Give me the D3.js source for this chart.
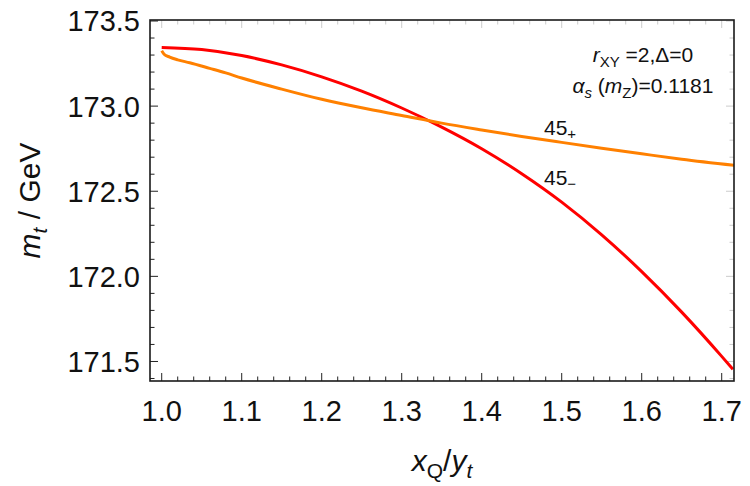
<!DOCTYPE html>
<html lang="en">
<head>
  <meta charset="UTF-8">
  <title>m_t vs x_Q/y_t</title>
  <style>
    body { margin: 0; background: #fff; }
    svg text { font-family: "Liberation Sans", Arial, sans-serif; fill: #111; }
    .tick-label { font-size: 29px; }
    .axis-title { font-size: 30px; }
    .note { font-size: 21px; }
    .curve-label { font-size: 21px; }
  </style>
</head>
<body>
  <svg id="chart" width="750" height="486"></svg>

  <script src="https://d3js.org/d3.v7.min.js"></script>
  <script>
    // values
    const minusX = [1.0, 1.05, 1.1, 1.15, 1.2, 1.25, 1.3, 1.35, 1.4, 1.45, 1.5, 1.55, 1.6, 1.65, 1.7, 1.714];
    const minusY = [173.345, 173.332, 173.297, 173.242, 173.172, 173.088, 172.989, 172.877, 172.75, 172.603, 172.436, 172.244, 172.028, 171.79, 171.53, 171.454];

    const plusX = [1.0, 1.003, 1.01, 1.02, 1.035, 1.06, 1.08, 1.1, 1.15, 1.2, 1.25, 1.3, 1.35, 1.4, 1.45, 1.5, 1.55, 1.6, 1.65, 1.716];
    const plusY = [173.325, 173.305, 173.288, 173.272, 173.255, 173.222, 173.195, 173.165, 173.1, 173.04, 172.99, 172.945, 172.9, 172.86, 172.822, 172.787, 172.753, 172.72, 172.688, 172.652];

    const xTicks = [1.0, 1.1, 1.2, 1.3, 1.4, 1.5, 1.6, 1.7];
    const yTicks = [171.5, 172.0, 172.5, 173.0, 173.5];

    const svg = d3.select('#chart');
    const mLeft = 150, mRight = 734, mTop = 20, mBottom = 381;

    const x = d3.scaleLinear().domain([0.98537, 1.71537]).range([mLeft, mRight]);
    const y = d3.scaleLinear().domain([173.5059, 171.3853]).range([mTop, mBottom]);

    svg.append('clipPath').attr('id', 'clip')
      .append('rect')
      .attr('x', mLeft).attr('y', mTop)
      .attr('width', mRight - mLeft).attr('height', mBottom - mTop);

    // minor ticks
    const xMinor = d3.range(0.98, 1.72, 0.02).filter(v => v >= x.domain()[0] && v <= x.domain()[1]);
    const yMinor = d3.range(171.4, 173.51, 0.1).filter(v => v >= y.domain()[1] && v <= y.domain()[0]);
    const isMajorX = v => xTicks.some(t => Math.abs(t - v) < 1e-6);
    const isMajorY = v => yTicks.some(t => Math.abs(t - v) < 1e-6);

    const ticks = svg.append('g');
    // bottom + top
    xMinor.forEach(v => {
      const len = isMajorX(v) ? 8 : 4.5;
      ticks.append('line')
        .attr('x1', x(v)).attr('x2', x(v))
        .attr('y1', mBottom).attr('y2', mBottom - len)
        .attr('stroke', '#222').attr('stroke-width', 1);
      ticks.append('line')
        .attr('x1', x(v)).attr('x2', x(v))
        .attr('y1', mTop).attr('y2', mTop + len)
        .attr('stroke', '#ccc').attr('stroke-width', 1);
    });
    // left + right
    yMinor.forEach(v => {
      const len = isMajorY(v) ? 8 : 4.5;
      ticks.append('line')
        .attr('x1', mLeft).attr('x2', mLeft + len)
        .attr('y1', y(v)).attr('y2', y(v))
        .attr('stroke', '#222').attr('stroke-width', 1);
      ticks.append('line')
        .attr('x1', mRight).attr('x2', mRight - len)
        .attr('y1', y(v)).attr('y2', y(v))
        .attr('stroke', '#ccc').attr('stroke-width', 1);
    });

    const line = d3.line()
      .x(d => x(d[0]))
      .y(d => y(d[1]))
      .curve(d3.curveMonotoneX);

    const curves = svg.append('g').attr('clip-path', 'url(#clip)');
    curves.append('path')
      .datum(minusX.map((v, i) => [v, minusY[i]]))
      .attr('d', line)
      .attr('fill', 'none')
      .attr('stroke', '#ff0000')
      .attr('stroke-width', 3);
    curves.append('path')
      .datum(plusX.map((v, i) => [v, plusY[i]]))
      .attr('d', line)
      .attr('fill', 'none')
      .attr('stroke', '#ff8000')
      .attr('stroke-width', 3);

    // frame
    svg.append('rect')
      .attr('x', mLeft).attr('y', mTop)
      .attr('width', mRight - mLeft).attr('height', mBottom - mTop)
      .attr('fill', 'none')
      .attr('stroke', '#1a1a1a')
      .attr('stroke-width', 1.6);

    // tick labels
    svg.append('g').selectAll('text')
      .data(xTicks)
      .enter().append('text')
      .attr('class', 'tick-label')
      .attr('x', d => x(d))
      .attr('y', 421)
      .attr('text-anchor', 'middle')
      .text(d => d3.format('.1f')(d));

    svg.append('g').selectAll('text')
      .data(yTicks)
      .enter().append('text')
      .attr('class', 'tick-label')
      .attr('x', 140)
      .attr('y', d => y(d))
      .attr('dy', '0.36em')
      .attr('text-anchor', 'end')
      .text(d => d3.format('.1f')(d));

    // axis titles
    const xt = svg.append('text')
      .attr('class', 'axis-title')
      .attr('x', (mLeft + mRight) / 2)
      .attr('y', 471)
      .attr('text-anchor', 'middle');
    xt.append('tspan').attr('font-style', 'italic').text('x');
    xt.append('tspan').attr('font-size', '21px').attr('dy', 7).text('Q');
    xt.append('tspan').attr('dy', -7).text('/');
    xt.append('tspan').attr('font-style', 'italic').text('y');
    xt.append('tspan').attr('font-style', 'italic').attr('font-size', '21px').attr('dy', 7).text('t');

    const yt = svg.append('text')
      .attr('class', 'axis-title')
      .attr('transform', `translate(40,${(mTop + mBottom) / 2}) rotate(-90)`)
      .attr('text-anchor', 'middle');
    yt.append('tspan').attr('font-style', 'italic').text('m');
    yt.append('tspan').attr('font-style', 'italic').attr('font-size', '21px').attr('dy', 7).text('t');
    yt.append('tspan').attr('dy', -7).text(' / GeV');

    // notes
    const n1 = svg.append('text').attr('class', 'note')
      .attr('x', 643).attr('y', 62).attr('text-anchor', 'middle');
    n1.append('tspan').attr('font-style', 'italic').text('r');
    n1.append('tspan').attr('font-size', '15px').attr('dy', 5).text('XY');
    n1.append('tspan').attr('dy', -5).text(' =2,Δ=0');

    const n2 = svg.append('text').attr('class', 'note')
      .attr('x', 643).attr('y', 93).attr('text-anchor', 'middle');
    n2.append('tspan').attr('font-style', 'italic').text('α');
    n2.append('tspan').attr('font-style', 'italic').attr('font-size', '15px').attr('dy', 5).text('s');
    n2.append('tspan').attr('dy', -5).text(' (');
    n2.append('tspan').attr('font-style', 'italic').text('m');
    n2.append('tspan').attr('font-size', '15px').attr('dy', 5).text('Z');
    n2.append('tspan').attr('dy', -5).text(')=0.1181');

    // curve labels
    const lp = svg.append('text').attr('class', 'curve-label').attr('x', 544).attr('y', 135);
    lp.append('tspan').text('45');
    lp.append('tspan').attr('font-size', '15px').attr('dy', 4).text('+');

    const lm = svg.append('text').attr('class', 'curve-label').attr('x', 544).attr('y', 185);
    lm.append('tspan').text('45');
    lm.append('tspan').attr('font-size', '15px').attr('dy', 4).text('−');
  </script>
</body>
</html>
